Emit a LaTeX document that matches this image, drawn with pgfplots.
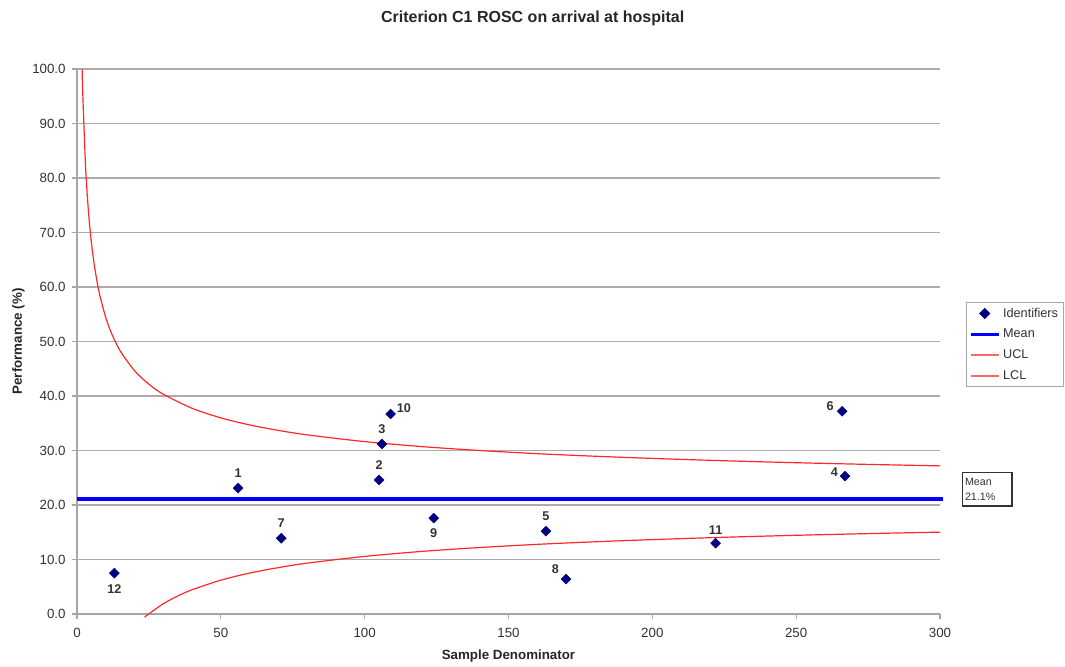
\documentclass[border=0pt]{standalone}
\usepackage{pgfplots}
\pgfplotsset{compat=1.18}
\usepackage{fontspec}
\setmainfont{Liberation Sans}
\definecolor{navyd}{RGB}{0,0,128}
\definecolor{meanblue}{RGB}{0,0,255}
\definecolor{clred}{RGB}{255,40,40}
\definecolor{txtgray}{RGB}{50,50,50}
\begin{document}
\begin{tikzpicture}
\begin{axis}[
  scale only axis,
  width=647.25pt, height=408.75pt,
  xmin=0, xmax=300, ymin=0, ymax=100,
  clip=false,
  axis x line*=bottom, axis y line*=left,
  axis line style={gray!70, line width=0.8pt},
  tick align=outside,
  major tick length=4pt,
  tick style={gray!70, line width=0.8pt},
  xtick={0,50,...,300},
  ytick={0,10,...,100},
  ymajorgrids,
  grid style={gray!65, line width=1pt},
  yticklabel style={/pgf/number format/fixed, /pgf/number format/fixed zerofill, /pgf/number format/precision=1, xshift=-1pt},
  /pgf/number format/assume math mode=true,
  ticklabel style={font=\fontsize{10}{12}\selectfont, text=txtgray},
  xticklabel style={yshift=-3pt},
  xlabel={\textbf{Sample Denominator}},
  ylabel={\textbf{Performance (\%)}},
  xlabel style={font=\fontsize{10}{12}\selectfont, text=black!85, at={(axis description cs:0.5,-0.077)}, anchor=center},
  ylabel style={font=\fontsize{10}{12}\selectfont, text=black!85, at={(axis description cs:-0.068,0.5)}, anchor=center},
  legend style={at={(axis description cs:1.030,0.5725)}, anchor=north west,
     font=\fontsize{9.5}{11}\selectfont, draw=gray!70, line width=0.8pt,
     row sep=3.5pt, inner sep=2pt, text=txtgray},
  legend cell align=left,
]
\addplot[only marks, mark=square*, mark options={rotate=45}, mark size=2.6pt, color=navyd,
  nodes near coords=\pgfplotspointmeta,
  point meta=explicit symbolic,
  visualization depends on={\thisrow{dx}\as\mydx},
  visualization depends on={\thisrow{dy}\as\mydy},
  every node near coord/.append style={font=\fontsize{9.5}{11}\selectfont\bfseries, text=txtgray, anchor=center, xshift=\mydx pt, yshift=\mydy pt},
  legend image code/.code={\draw[navyd] plot[mark=square*, mark options={rotate=45}, mark size=2.6pt] coordinates {(0.375cm,0cm)};}
] table[meta=lab] {
x y lab dx dy
56 23.1 1 0 11
105 24.6 2 0 11
106 31.2 3 0 11
267 25.3 4 -8 3
163 15.2 5 0 11
266 37.2 6 -9 4
71 13.9 7 0 11
170 6.4 8 -8 7.5
124 17.6 9 0 -11
109 36.7 10 10 4.5
222 13.0 11 0 10
13 7.5 12 0 -12
};
\addlegendentry{Identifiers}
\addplot[meanblue, line width=3pt,
  legend image code/.code={\draw[meanblue, line width=2.2pt] (0cm,0cm) -- (0.75cm,0cm);}]
  coordinates {(0,21.1) (301,21.1)};
\addlegendentry{Mean}
\addplot[clred, line width=0.9pt, smooth,
  legend image code/.code={\draw[clred!70, line width=1.4pt] (0cm,0cm) -- (0.75cm,0cm);}] coordinates {
(1.78,100.0) (2,95.56) (3,81.89) (4,73.75) (5,68.19) (6,64.09) (7,60.90) (8,58.33)
(10,54.40) (12,51.50) (15,48.29) (20,44.65) (25,42.16) (30,40.32) (40,37.75)
(50,35.99) (60,34.69) (70,33.69) (80,32.87) (100,31.63) (120,30.71) (140,30.00)
(160,29.42) (180,28.95) (200,28.55) (225,28.12) (250,27.76) (275,27.45) (300,27.18)};
\addlegendentry{UCL}
\addplot[clred, line width=0.9pt, smooth,
  legend image code/.code={\draw[clred!70, line width=1.4pt] (0cm,0cm) -- (0.75cm,0cm);}] coordinates {
(23.5,-0.6) (25,0.04) (30,1.88) (35,3.30) (40,4.45) (50,6.21) (60,7.51) (70,8.51)
(80,9.33) (100,10.57) (120,11.49) (140,12.20) (160,12.78) (180,13.25) (200,13.65)
(225,14.08) (250,14.44) (275,14.75) (300,15.02)};
\addlegendentry{LCL}
\node[draw=black!80, line width=1.2pt, fill=white, align=left, inner sep=2pt,
  text width=33pt, minimum height=25pt,
  font=\fontsize{8}{11}\selectfont, text=txtgray, anchor=west]
  at (axis cs:307.5,22.9) {Mean\\21.1\%};
\node[font=\fontsize{12}{14}\selectfont\bfseries, text=black!85] at (axis description cs:0.528,1.093) {Criterion C1 ROSC on arrival at hospital};
\end{axis}
\path[use as bounding box] (-57.75pt,-36.75pt) rectangle (741pt,460.5pt);
\end{tikzpicture}
\end{document}
